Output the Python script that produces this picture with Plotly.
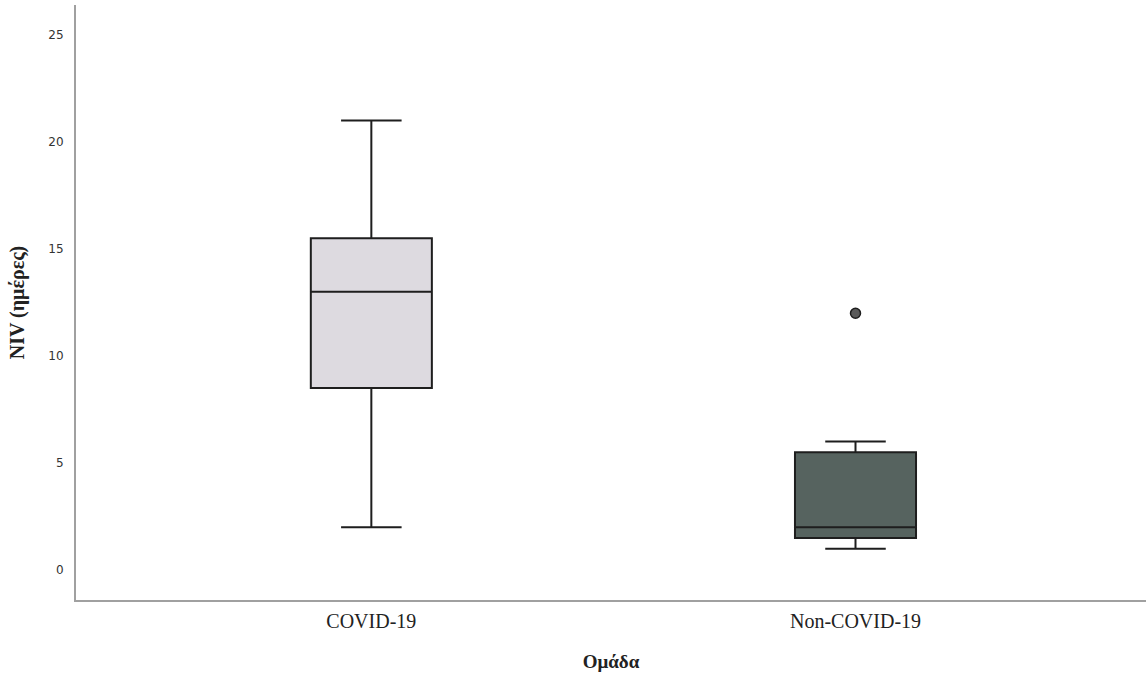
import plotly.graph_objects as go

categories = ["COVID-19", "Non-COVID-19"]
q1 = [8.5, 1.5]
median = [13.0, 2.0]
q3 = [15.5, 5.5]
lower = [2.0, 1.0]
upper = [21.0, 6.0]
fills = ["#dddae0", "#56635f"]
outlier_cat = ["Non-COVID-19"]
outlier_val = [12.0]
y_ticks = [0, 5, 10, 15, 20, 25]

fig = go.Figure()
for i, c in enumerate(categories):
    fig.add_trace(go.Box(
        x=[c], q1=[q1[i]], median=[median[i]], q3=[q3[i]],
        lowerfence=[lower[i]], upperfence=[upper[i]],
        width=0.25, whiskerwidth=0.5, boxpoints=False,
        fillcolor=fills[i], line=dict(color="#1e1e1e", width=2),
        showlegend=False, hoverinfo="skip",
    ))
fig.add_trace(go.Scatter(
    x=outlier_cat, y=outlier_val, mode="markers",
    marker=dict(size=10, color="#5a5a5a", line=dict(color="#1e1e1e", width=1.5)),
    showlegend=False,
))

fig.update_layout(
    width=1146, height=673,
    margin=dict(l=76, r=0, t=5, b=73),
    paper_bgcolor="white", plot_bgcolor="white",
    xaxis=dict(
        type="category", categoryorder="array", categoryarray=categories,
        range=[-0.61, 1.6], showgrid=False, zeroline=False,
        showline=True, linecolor="#a0a0a0", linewidth=2, ticks="",
        tickfont=dict(family="Liberation Serif", size=20, color="#222222"),
        ticklabelstandoff=2,
        title=dict(text="<b>Ομάδα</b>", font=dict(family="Liberation Serif", size=19, color="#222222"), standoff=24),
    ),
    yaxis=dict(
        range=[-1.4, 26.4], tickvals=y_ticks, showgrid=False, zeroline=False,
        showline=True, linecolor="#a0a0a0", linewidth=2, ticks="",
        tickfont=dict(family="DejaVu Sans", size=12, color="#333333"),
        ticklabelstandoff=8,
        title=dict(text="<b>NIV (ημέρες)</b>", font=dict(family="Liberation Serif", size=20, color="#222222"), standoff=18),
    ),
)
fig.write_html("out.html", config={"displayModeBar": False},
               post_script="document.body.style.margin='0';document.body.style.overflow='hidden';")
